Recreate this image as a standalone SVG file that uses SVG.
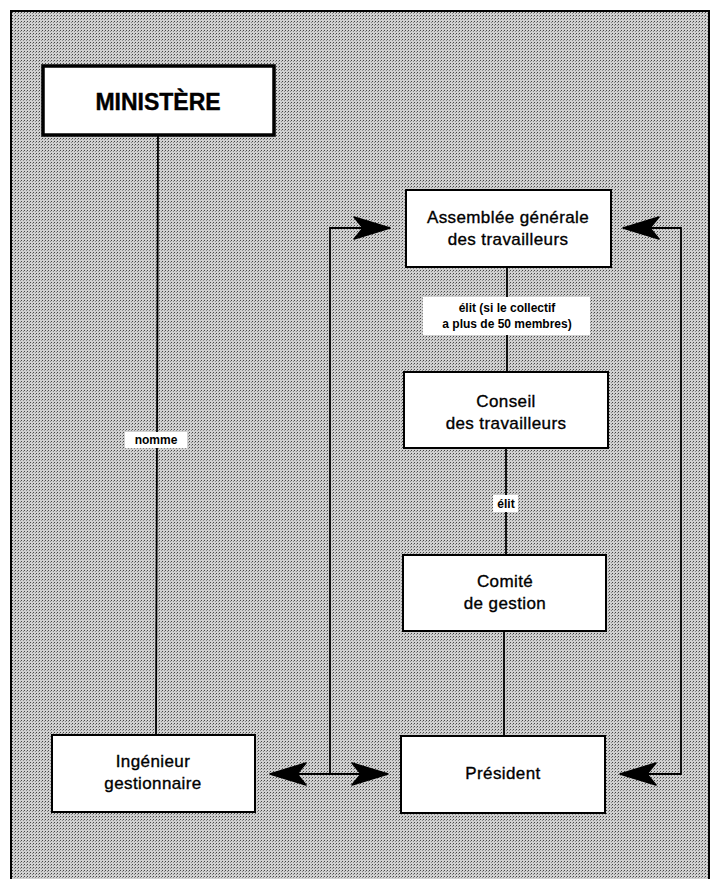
<svg xmlns="http://www.w3.org/2000/svg" width="713" height="879" viewBox="0 0 713 879">
<defs>
<pattern id="dots" width="3" height="3" patternUnits="userSpaceOnUse">
<rect width="3" height="3" fill="#d0d0d0"/>
<rect x="0" y="0" width="1" height="1" fill="#444"/>
<rect x="2" y="1" width="1" height="1" fill="#888"/>
</pattern>
<marker id="ah" viewBox="-38 -13 40 26" refX="0" refY="0" markerWidth="40" markerHeight="26" markerUnits="userSpaceOnUse" orient="auto-start-reverse">
<path d="M0,0 L-36,-11 L-27,0 L-36,11 Z" fill="#000" stroke="#000" stroke-width="1.5" stroke-linejoin="round"/>
</marker>
<style>
.box{fill:#fff;stroke:#000;stroke-width:2}
.t{font-family:"Liberation Sans",Arial,sans-serif;font-size:17px;text-anchor:middle;fill:#000;stroke:#000;stroke-width:0.35;letter-spacing:0.4px}
.lb{font-family:"Liberation Sans",Arial,sans-serif;font-size:12px;font-weight:bold;text-anchor:middle;fill:#000}
.ln{fill:none;stroke:#000;stroke-width:1.8}
</style>
</defs>
<rect x="0" y="0" width="713" height="879" fill="#fff"/>
<rect x="11" y="11" width="698" height="880" fill="url(#dots)" stroke="#000" stroke-width="2"/>

<g id="connectors">
<line class="ln" x1="158" y1="135" x2="156" y2="735"/>
<line class="ln" x1="507" y1="267" x2="507" y2="372"/>
<line class="ln" x1="506" y1="448" x2="506" y2="555"/>
<line class="ln" x1="504" y1="631" x2="504" y2="736"/>
<line class="ln" x1="270" y1="774" x2="388" y2="774" marker-start="url(#ah)" marker-end="url(#ah)"/>
<polyline class="ln" points="330,774 330,228 390,228" marker-end="url(#ah)"/>
<polyline class="ln" points="620,774 681,774 681,228 623,228" marker-start="url(#ah)" marker-end="url(#ah)"/>
<g id="label-nomme">
<rect x="125" y="432" width="62" height="16" fill="#fff"/>
<text class="lb" x="156" y="444">nomme</text>
</g>
<g id="label-elit1">
<rect x="423" y="297" width="167" height="38" fill="#fff"/>
<text class="lb" x="507" y="312">élit (si le collectif</text>
<text class="lb" x="507" y="328">a plus de 50 membres)</text>
</g>
<g id="label-elit2">
<rect x="493" y="495" width="25" height="17" fill="#fff"/>
<text class="lb" x="506" y="508">élit</text>
</g>
</g>

<g id="ministere">
<rect x="43" y="66" width="231" height="69" fill="#fff" stroke="#000" stroke-width="3.5"/>
<text x="158" y="110" font-family="Liberation Sans,Arial,sans-serif" font-size="23" font-weight="bold" text-anchor="middle" stroke="#000" stroke-width="0.4">MINISTÈRE</text>
</g>
<g id="assemblee">
<rect class="box" x="406" y="190" width="205" height="77"/>
<text class="t" x="508" y="223">Assemblée générale</text>
<text class="t" x="508" y="245">des travailleurs</text>
</g>
<g id="conseil">
<rect class="box" x="404" y="372" width="204" height="76"/>
<text class="t" x="506" y="407">Conseil</text>
<text class="t" x="506" y="429">des travailleurs</text>
</g>
<g id="comite">
<rect class="box" x="403" y="555" width="203" height="76"/>
<text class="t" x="505" y="587">Comité</text>
<text class="t" x="505" y="609">de gestion</text>
</g>
<g id="ingenieur">
<rect class="box" x="52" y="735" width="203" height="77"/>
<text class="t" x="153" y="767">Ingénieur</text>
<text class="t" x="153" y="789">gestionnaire</text>
</g>
<g id="president">
<rect class="box" x="401" y="736" width="204" height="77"/>
<text class="t" x="503" y="779">Président</text>
</g>
</svg>
